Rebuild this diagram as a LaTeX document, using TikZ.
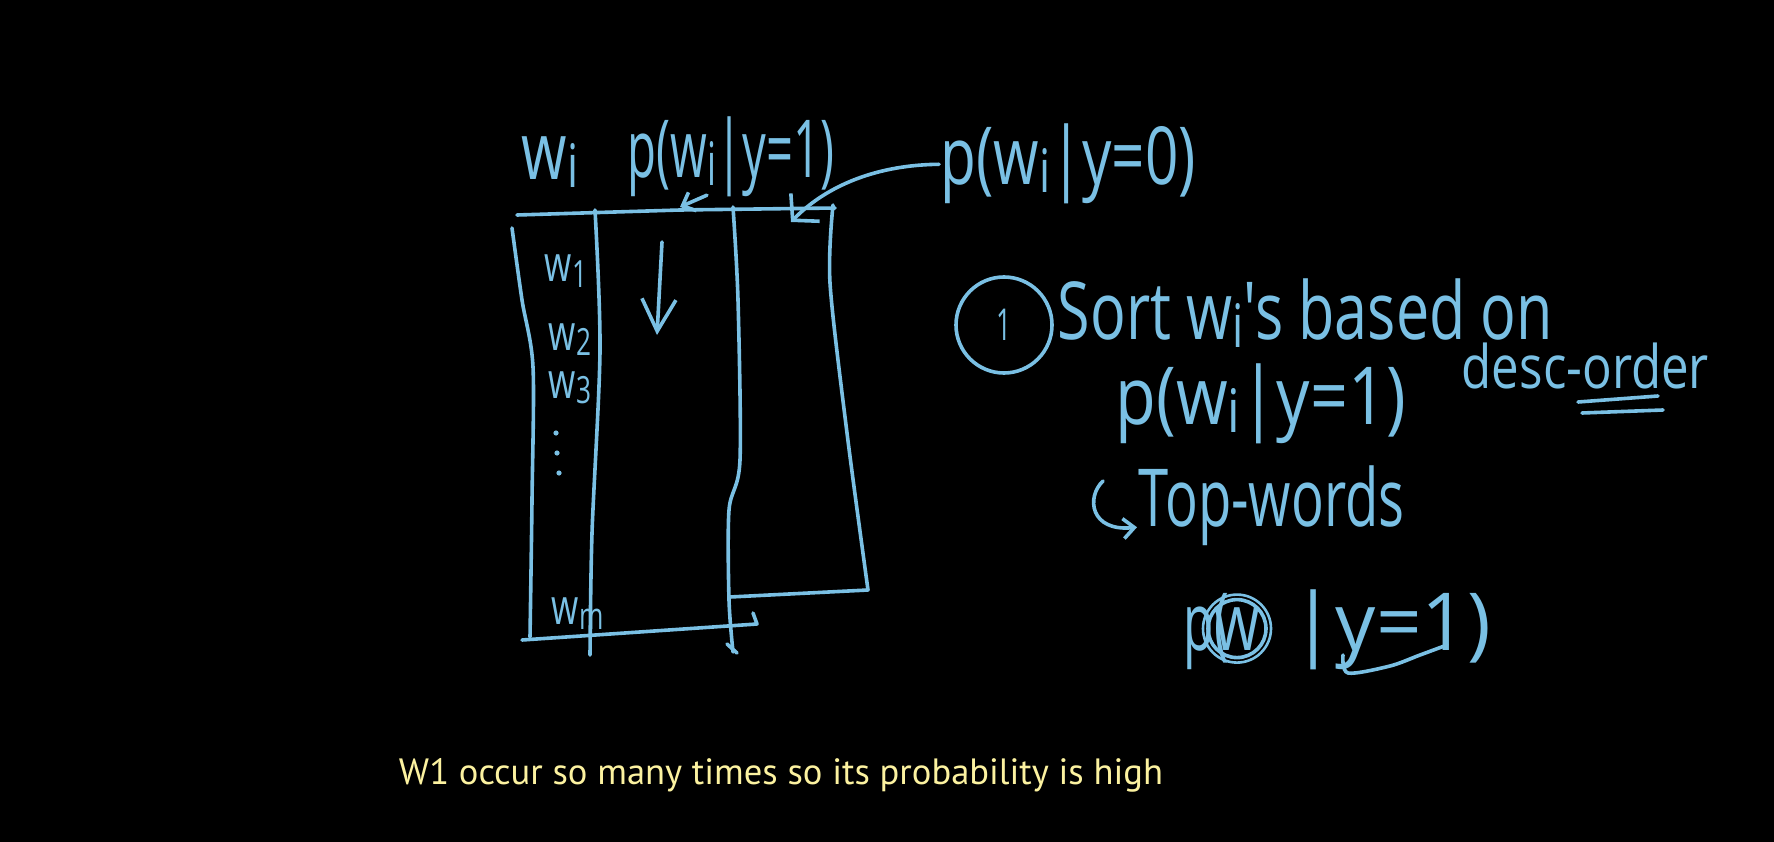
\documentclass[tikz,border=0pt]{standalone}
\usepackage{fontspec}
\usepackage{graphicx}
\usetikzlibrary{arrows.meta, positioning}
\newfontfamily\handfont{Open Sans}
\newfontfamily\capfont{PT Sans}
\definecolor{chalk}{RGB}{122,192,228}
\definecolor{capyellow}{RGB}{252,242,160}
% narrow handwriting look
\newcommand{\hand}[2][0.72]{\scalebox{#1}[1]{#2}}
\newcommand{\low}[1]{\raisebox{-0.1em}{\scalebox{0.75}{#1}}}

\begin{document}
\begin{tikzpicture}[x=1pt, y=-1pt,
                    line width=3.6pt, line cap=round, line join=round,
                    ink/.style={draw=chalk},
                    handtext/.style={
                        text=chalk,
                        inner sep=0pt,
                        font=\handfont\fontsize{80}{90}\selectfont
                    },
                    smalltext/.style={
                        handtext,
                        font=\handfont\fontsize{60}{70}\selectfont
                    },
                    rowtext/.style={
                        handtext,
                        font=\handfont\fontsize{50}{56}\selectfont
                    },
                    arrow/.style={
                        draw=chalk,
                        -{Straight Barb[length=11pt,width=20pt]}
                    },
                    caption/.style={
                        text=capyellow,
                        inner sep=0pt,
                        font=\capfont\fontsize{36}{40}\selectfont
                    }
                ]

                % Fond
                \fill[black] (0,0) rectangle (1774,842);

                % En-tetes du tableau
                \node[handtext, anchor=base west] (wi) at (520,180) {\hand[0.73]{w\low{i}}};
                \node[handtext, anchor=base west] (pyone) at (626,178) {\hand[0.59]{p(w\low{i}|y=1)}};
                \node[handtext, anchor=base west] (pyzero) at (939,185) {\hand[0.73]{p(w\low{i}|y=0)}};

                % Tableau dessine a la main
                \draw[ink] (517,215) -- (680,210) -- (835,208);
                \draw[ink] plot[smooth] coordinates {(512,228) (522,300) (533,367) (532,500) (530,637)};
                \draw[ink] plot[smooth] coordinates {(595,210) (600,350) (592,533) (590,655)};
                \draw[ink] plot[smooth] coordinates {(733,207) (738,300) (740,460) (729,510) (729,600) (733,652)};
                \draw[ink] (727,644) -- (737,653);
                \draw[ink] plot[smooth] coordinates {(833,205) (830,283) (847,433) (868,590)} -- (730,597);
                \draw[ink] (522,640) -- (757,624) -- (753,613);

                % Lignes w_1 ... w_m
                \node[rowtext, anchor=base west] (wone) at (543,282) {\hand[0.7]{w\low{1}}};
                \node[rowtext, anchor=base west] (wtwo) at (547,350) {\hand[0.7]{w\low{2}}};
                \node[rowtext, anchor=base west] (wthree) at (547,398) {\hand[0.7]{w\low{3}}};
                \fill[chalk] (556,433) circle (2.6) (557,453) circle (2.6) (559,473) circle (2.6);
                \node[rowtext, anchor=base west] (wm) at (550,624) {\hand[0.7]{w\low{m}}};

                % Fleche de tri dans la colonne
                \draw[ink, -{Straight Barb[length=32pt,width=34pt]}] (662,242) -- (657,335);

                % Fleches vers les colonnes
                \coordinate (tipone) at (680,207);
                \coordinate (tipzero) at (791,222);
                \draw[arrow] ([xshift=-24pt, yshift=4pt]pyone.south) -- (tipone);
                \draw[ink, -{Straight Barb[length=18pt,width=40pt]}] (pyzero.west) .. controls (870,165) and (822,190) .. (tipzero);

                % Etape 1
                \node[draw=chalk, circle, minimum size=96pt, inner sep=0pt, text=chalk,
                      font=\handfont\fontsize{44}{50}\selectfont] (stepone) at (1004,325) {\hand[0.6]{1}};
                \node[handtext, anchor=base west] (sortw) at (1056,339) {\hand[0.74]{Sort w\low{i}'s based on}};
                \node[handtext, anchor=base west] (pytwo) at (1114,424) {\hand[0.83]{p(w\low{i}|y=1)}};
                \node[smalltext, anchor=base west] (desc) at (1460,388) {\hand[0.82]{desc-order}};
                \draw[ink] (1578,402) -- (1658,396);
                \draw[ink] (1582,413) -- (1663,410);

                % Top-words
                \coordinate (hookstart) at (1103,481);
                \node[handtext, anchor=base west] (topw) at (1137,526) {\hand[0.68]{Top-words}};
                \draw[arrow] (hookstart) .. controls (1086,497) and (1090,532) .. ([yshift=-22pt]topw.west);

                % p(w|y=1) avec w entoure
                \node[handtext, anchor=base west] (pthree) at (1182,650) {\hand[0.62]{p(}};
                \node[handtext, anchor=base] (wcirc) at (1237,650) {\hand[0.73]{w}};
                \node[handtext, anchor=base west] (pthreer) at (1290,650) {\hand[1.0]{|y=1)}};
                \draw[ink] (wcirc.center) circle (29);
                \draw[ink, line width=2.6pt] (wcirc.center) circle (34);
                \draw[ink] plot[smooth] coordinates {(1343,655) (1348,673) (1390,666) (1420,655) (1447,645)};

                % Sous-titre
                \node[caption] (note) at (781,775) {\resizebox{764pt}{!}{W1 occur so many times so its probability is high}};

            \end{tikzpicture}
\end{document}
